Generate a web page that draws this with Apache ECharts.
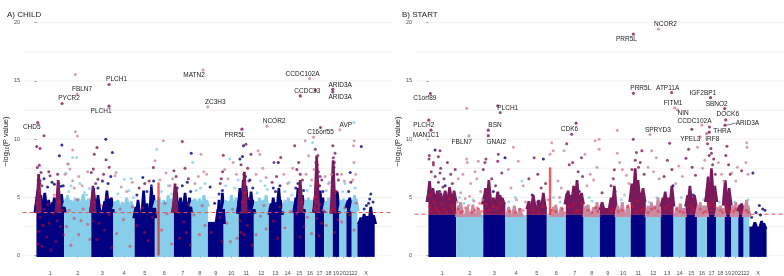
<!DOCTYPE html>
<html lang="en">
<head>
<meta charset="UTF-8">
<title>Manhattan CHILD / START</title>
<script src="https://cdn.jsdelivr.net/npm/echarts@6/dist/echarts.min.js"></script>
<style>html,body{margin:0;padding:0;background:#fff}</style>
</head>
<body>
<div id="chart" style="width:784px;height:276px;"></div>
<script>
// chromosomes (Mb)
const chromNames = ['1','2','3','4','5','6','7','8','9','10','11','12','13','14','15','16','17','18','19','20','21','22','X'];
const chromLengths = [249,243,198,191,181,171,159,146,141,136,135,134,115,107,103,90,81,78,59,63,48,51,155];
const yTicks = [0, 5, 10, 15, 20];
const yGrid = [0, 2.5, 5, 7.5, 10, 12.5, 15, 17.5, 20];

const thresholdChild = 3.7;
const thresholdStart = 3.56;

// ---------- A) CHILD ----------  points are [chromosome, position Mb, -log10 p]
const childBand = [3.9,4.4,3.9,4.2,3.4,4.3,3.9,4.4,2.9,4.2,3.8,4.2,3.7,4.0,3.9,4.2,3.9,4.0,3.8,4.0,4.3,4.0,2.9];
const childHitBand = [0,0,0,0,0,0,0,0,0,0,0,0,0,0,0,0,0,0,0,0,0,0,0];
// dense peak columns: [chromosome, position, top]
const childTowers = [
  [1,5,5.0],[1,10,5.6],[1,22,4.9],[1,40,5.2],[1,55,4.7],[1,75,5.4],[1,90,4.6],[1,110,4.8],[1,145,4.6],[1,160,5.0],[1,175,4.5],[1,195,5.7],[1,210,4.9],[1,225,5.3],[1,240,4.7],
  [2,15,4.9],[2,30,5.2],[2,60,4.8],[2,100,5.0],[2,130,4.9],[2,170,5.3],[2,200,4.8],[2,220,4.9],
  [3,10,5.0],[3,20,5.8],[3,40,4.8],[3,60,5.2],[3,120,4.7],[3,140,5.6],[3,160,4.9],[3,180,5.0],
  [4,20,4.7],[4,40,4.8],[4,80,4.6],[4,120,5.0],[4,160,4.7],
  [5,10,4.2],[5,30,4.8],[5,80,5.6],[5,110,4.5],[5,150,5.9],[5,170,5.2],
  [6,10,4.8],[6,40,5.0],[6,80,4.8],[6,120,5.2],[6,150,4.9],
  [7,5,4.8],[7,20,5.7],[7,40,4.7],[7,60,5.0],[7,80,4.6],[7,100,5.4],[7,120,4.6],[7,140,5.0],
  [8,10,4.8],[8,30,4.9],[8,70,4.9],[8,110,5.2],[8,135,4.8],
  [9,90,4.0],[9,100,4.8],[9,120,4.2],[9,130,5.4],
  [10,20,4.8],[10,50,4.7],[10,70,5.2],[10,110,5.0],[10,125,4.7],
  [11,5,5.0],[11,10,5.8],[11,25,5.2],[11,40,6.5],[11,55,5.4],[11,65,6.0],[11,85,5.0],[11,110,5.5],[11,125,4.8],
  [12,20,4.7],[12,50,5.0],[12,80,4.8],[12,110,5.2],
  [13,20,4.5],[13,40,5.0],[13,70,4.6],[13,90,5.8],[13,105,4.8],
  [14,30,4.8],[14,60,5.0],[14,90,4.7],
  [15,20,5.0],[15,40,5.8],[15,60,5.0],[15,80,5.2],
  [16,10,4.8],[16,30,5.0],[16,60,4.8],
  [17,5,5.4],[17,10,6.0],[17,30,5.2],[17,45,5.6],[17,70,5.0],
  [18,15,4.7],[18,40,5.0],[18,65,4.8],
  [19,5,6.0],[19,20,5.2],[19,40,5.5],
  [20,20,4.8],[20,40,4.9],
  [21,15,4.8],[21,30,5.0],
  [22,15,4.8],[22,25,5.2],[22,40,4.9],
  [23,30,3.3],[23,60,3.6],[23,90,3.4],[23,120,4.2],[23,145,3.5]
];
const childHitTowers = [[1,20,7.0],[1,195,6.5],[3,15,6.0],[7,10,6.2],[11,50,7.2],[15,60,6.5],[17,15,8.5],[19,3,8.2]];
// [chromosome, position, top, bottom]
const childRedTowers = [[6,33,6.3,0]];
const childPoints = [
  [1,206,8.57],[1,228,9.5],[1,68,6.6],[1,161,6.14],[1,221,5.95],[1,240,6.0],[1,30,6.2],[1,100,5.9],[1,140,6.3],
  [2,76,8.43],[2,16,7.08],[2,181,5.43],[2,226,5.77],[2,112,8.43],[2,60,6.0],[2,140,6.2],[2,200,5.2],[2,40,5.5],
  [3,130,10.0],[3,189,8.86],[3,60,5.8],[3,150,6.2],[3,100,6.4],[3,175,6.8],
  [4,99,6.57],[4,159,6.63],[4,40,5.3],[4,140,5.6],[4,180,5.0],
  [5,73,6.71],[5,150,6.0],[5,20,5.2],[5,110,5.5],[5,170,6.4],
  [6,17,9.14],[6,60,5.5],[6,120,6.0],[6,150,5.3],
  [7,75,6.0],[7,120,6.3],[7,150,5.5],[7,30,5.8],[7,155,8.8],
  [8,10,8.0],[8,80,5.8],[8,120,6.2],[8,40,5.6],
  [9,20,5.9],[9,100,5.3],[9,60,4.5],[9,130,5.6],
  [10,55,8.29],[10,20,6.0],[10,100,5.8],[10,130,6.5],
  [11,33,8.51],[11,10,8.3],[11,60,6.8],[11,100,6.5],[11,125,5.8],[11,42,9.43],
  [12,100,6.0],[12,30,5.4],[12,60,6.4],[12,120,5.7],
  [13,85,8.0],[13,40,5.8],[13,100,6.0],[13,60,5.5],
  [14,30,5.5],[14,70,6.3],[14,90,5.2],
  [15,40,6.2],[15,90,5.6],[15,20,5.8],
  [16,68,9.71],[16,20,5.6],[16,50,6.0],
  [17,40,6.0],[17,70,5.5],
  [18,20,5.6],[18,50,6.3],
  [19,30,5.5],
  [20,30,5.5],[20,50,6.2],
  [21,34,7.14],[21,20,5.5],
  [22,30,5.8],
  [23,35,9.37],[23,120,5.3],[23,110,4.86],[23,80,4.3],[23,140,4.6],[23,60,4.0],[23,100,4.5]
];
const childHits = [
  [1,3,9.37],[1,32,9.2],[1,68,10.3],[1,26,7.77],[1,8,7.57],[1,41,7.14],[1,33,6.43],[1,111,7.2],[1,122,6.86],[1,20,6.9],[1,50,6.0],[1,15,6.5],[1,200,6.2],[1,190,7.0],
  [2,37,7.86],[2,76,6.43],[2,52,7.43],[2,7,7.0],[2,100,10.63],[2,118,10.28],[2,100,15.54],[2,31,7.86],[2,130,6.8],[2,160,6.0],[2,210,7.2],[2,90,5.8],[2,76,9.08],
  [3,27,8.71],[3,51,9.29],[3,132,8.23],[3,0,7.14],[3,18,7.43],[3,60,6.57],[3,110,7.0],[3,160,7.6],[3,40,6.2],
  [4,15,6.86],[4,24,7.14],[4,70,5.9],[4,120,5.5],[4,170,6.3],
  [5,168,7.57],[5,130,6.4],[5,40,5.8],[5,90,6.2],
  [6,77,9.86],[6,2,8.14],[6,45,6.5],[6,100,7.1],[6,135,6.0],[6,160,6.6],
  [7,75,9.8],[7,0,7.3],[7,20,6.8],[7,100,7.5],[7,130,6.6],
  [8,84,8.71],[8,60,6.8],[8,110,7.2],[8,30,6.2],[8,135,7.0],
  [9,132,7.2],[9,138,8.63],[9,110,6.2],[9,120,6.6],
  [10,85,8.0],[10,40,6.6],[10,115,7.0],[10,10,7.4],
  [11,64,9.57],[11,109,8.71],[11,80,7.5],[11,45,7.0],[11,20,7.8],[11,90,6.4],
  [12,38,9.0],[12,53,8.71],[12,80,7.5],[12,110,6.7],[12,20,7.0],
  [13,107,8.43],[13,47,8.0],[13,70,6.8],[13,30,6.3],
  [14,20,7.0],[14,55,6.2],[14,100,7.5],
  [15,10,9.43],[15,46,8.0],[15,60,7.0],[15,80,6.5],[15,30,7.4],
  [16,2,9.86],[16,32,8.57],[16,10,7.0],[16,60,6.5],[16,80,7.4],
  [17,2,14.2],[17,49,11.0],[17,2,9.14],[17,14,8.5],[17,20,7.8],[17,30,7.2],[17,8,8.0],[17,45,6.8],[17,60,6.5],[17,25,8.6],
  [18,10,6.8],[18,40,6.2],[18,65,7.0],
  [19,0,9.43],[19,5,8.4],[19,10,7.6],[19,20,8.8],[19,40,7.0],[19,50,6.5],[19,15,8.0],
  [20,3,10.8],[20,20,7.0],[20,45,6.4],
  [21,40,6.3],
  [22,22,9.86],[22,16,9.43],[22,20,8.0],[22,35,7.0],[22,10,6.5]
];
const childReds = [
  [1,5,4.5],[1,20,2.1],[1,35,3.3],[1,50,0.8],[1,70,4.0],[1,90,1.6],[1,115,2.8],[1,150,3.6],[1,175,1.2],[1,200,4.6],[1,215,2.5],[1,235,3.9],[1,160,5.2],[1,30,5.6],
  [1,12,1.0],[1,60,2.6],[1,100,4.4],[1,130,0.5],[1,185,3.0],[1,245,1.8],
  [2,20,2.5],[2,60,0.9],[2,90,3.2],[2,130,1.8],[2,170,4.0],[2,210,2.7],[2,120,4.8],[2,45,3.9],[2,150,3.0],[2,230,1.4],
  [3,10,3.0],[3,50,1.4],[3,90,4.3],[3,120,2.2],[3,160,3.5],[3,185,0.7],[3,140,5.0],[3,30,4.6],[3,70,2.8],
  [4,30,1.9],[4,90,3.1],[4,150,0.8],[4,170,4.2],[4,60,4.0],
  [5,20,2.6],[5,70,4.1],[5,120,1.3],[5,160,3.3],[5,90,2.0],
  [6,60,2.2],[6,110,3.6],[6,150,1.0],[6,90,4.5],
  [7,15,3.8],[7,50,1.5],[7,90,2.9],[7,130,4.4],[7,150,0.9],[7,110,2.0],
  [8,20,3.5],[8,70,1.8],[8,120,2.6],[8,95,4.3],
  [9,30,2.0],[9,110,3.3],[9,130,1.2],
  [10,30,2.8],[10,80,4.0],[10,120,1.5],[10,60,1.2],
  [11,10,3.0],[11,30,4.6],[11,45,1.8],[11,60,5.4],[11,75,2.6],[11,100,3.8],[11,120,0.9],[11,50,6.2],[11,20,2.0],[11,88,4.9],
  [12,20,1.8],[12,60,3.4],[12,110,2.3],[12,90,4.3],
  [13,40,3.0],[13,80,1.5],[13,100,4.2],
  [14,30,2.4],[14,80,3.8],
  [15,30,3.6],[15,60,1.6],[15,80,4.6],[15,95,2.5],
  [16,20,3.3],[16,60,1.9],[16,80,4.1],
  [17,5,5.0],[17,15,3.2],[17,25,6.2],[17,35,1.7],[17,45,4.4],[17,60,2.8],[17,75,3.9],[17,12,4.6],
  [18,20,2.6],[18,60,3.8],
  [19,5,4.0],[19,15,2.0],[19,30,5.5],[19,45,3.1],
  [20,20,2.9],[20,50,4.1],
  [21,30,3.5],
  [22,20,2.2],[22,40,4.5]
];
// [chromosome, position, -log10 p, gene, highlighted]
const childGenes = [
  [1,12,11.43,'CHD5',1],[1,230,13.06,'PYCR2',1],[2,115,13.86,'FBLN7',1],
  [3,159,14.69,'PLCH1',1],[3,159,12.83,'PLCH1',1],[8,103,15.94,'MATN2',1],
  [8,145,12.77,'ZC3H3',1],[11,28,10.86,'PRR5L',1],[12,116,11.11,'NCOR2',1],
  [15,61,13.71,'CCDC33',1],[16,41,15.2,'CCDC102A',1],[16,77,10.17,'C16orf55',1],
  [19,0,14.28,'ARID3A',1],[19,0,14.05,'ARID3A',1],[22,19,11.43,'AVP',0]
];
const childLabelOffsets = [
  [-6,5],[7,-5],[5,-5],[7.5,-5],[-8,4.7],[-9,5.3],[7.5,-4.4],[-7,5.7],[7.3,-4.7],
  [7,-4.4],[-7,-4.6],[7,-4.7],[7.4,-4],[7.4,5],[-8,2.4]
];

// ---------- B) START ----------
const startBand = [3.5,3.5,3.5,3.5,3.5,3.5,3.5,3.5,3.5,3.5,3.5,3.5,3.5,3.5,3.5,3.5,3.5,3.5,3.5,3.5,3.5,3.5,2.5];
const startHitBand = [4.8,0,4.6,0,4.2,0,4.6,0,4.1,0,4.8,0,4.4,0,4.4,0,4.8,0,4.5,0,4.0,0,0];
const startTowers = [[23,50,2.9],[23,110,3.0],[23,130,2.8]];
const startHitTowers = [
  [1,5,5.6],[1,10,6.4],[1,25,5.4],[1,40,5.8],[1,60,5.3],[1,80,5.6],[1,110,5.4],[1,150,5.6],[1,170,5.2],[1,190,5.9],[1,210,5.3],[1,230,5.6],
  [2,20,4.3],[2,40,4.6],[2,100,4.2],[2,150,4.4],[2,200,4.1],
  [3,10,5.2],[3,20,5.8],[3,35,5.2],[3,50,6.5],[3,90,5.0],[3,130,5.5],[3,150,5.2],[3,170,5.0],
  [4,30,4.2],[4,80,4.3],[4,130,4.1],
  [5,20,4.7],[5,60,5.2],[5,110,4.8],[5,150,5.4],
  [6,60,4.2],[6,80,4.4],[6,130,4.2],
  [7,10,5.4],[7,20,5.6],[7,45,5.2],[7,70,6.0],[7,100,6.5],[7,120,5.2],[7,140,5.4],
  [8,20,4.3],[8,40,4.4],[8,90,4.2],[8,120,4.6],
  [9,20,4.6],[9,100,5.0],[9,130,6.0],
  [10,20,4.3],[10,60,4.6],[10,110,4.4],
  [11,10,6.2],[11,25,5.6],[11,40,7.5],[11,65,6.5],[11,90,5.4],[11,110,5.8],
  [12,20,4.3],[12,50,4.6],[12,80,4.3],[12,110,5.0],
  [13,20,5.0],[13,40,5.5],[13,70,5.0],[13,100,6.0],
  [14,30,4.2],[14,60,4.5],[14,90,4.1],
  [15,20,5.2],[15,40,6.0],[15,60,5.0],[15,80,5.2],
  [16,10,4.3],[16,30,4.6],[16,60,4.3],[16,80,4.3],
  [17,5,6.0],[17,10,6.8],[17,25,5.8],[17,40,7.5],[17,55,6.0],[17,70,6.0],
  [18,15,4.2],[18,40,4.3],[18,65,4.1],
  [19,5,6.5],[19,20,5.5],[19,40,5.8],
  [20,15,4.3],[20,40,4.6],
  [21,15,4.4],[21,30,4.5],
  [22,15,4.3],[22,25,4.8],[22,40,4.3]
];
const startRedTowers = [[6,29,7.6,3.5]];
const startPoints = [
  [1,60,9.06],[1,100,5.5],[1,150,6.0],[1,30,4.8],[1,200,5.2],
  [2,150,4.8],[2,70,4.5],[2,30,5.0],
  [3,195,8.4],[3,90,5.5],[3,140,4.9],
  [4,148,6.4],[4,90,5.0],[4,30,4.6],
  [5,150,8.3],[5,50,5.2],[5,100,4.6],
  [6,60,5.0],[6,120,4.6],
  [7,120,5.5],[7,40,4.8],
  [8,50,5.0],[8,75,4.7],
  [9,135,5.5],[9,110,4.6],
  [10,80,5.2],[10,50,4.8],
  [11,60,6.0],[11,20,5.0],
  [12,100,5.0],[12,30,4.6],
  [13,110,6.0],[13,50,4.8],
  [14,70,5.0],[15,70,5.2],[16,60,4.8],[17,60,5.5],[18,30,4.6],[19,30,5.0],[20,30,4.6],[21,20,4.2],[22,40,4.8],
  [23,32,7.09],[23,90,4.3],[23,120,4.0],[23,60,3.7],[23,140,3.9],[23,100,3.5],[23,20,3.3]
];
const startHits = [
  [1,5,8.3],[1,25,7.2],[1,45,7.8],[1,60,6.8],[1,90,6.3],[1,110,7.5],[1,140,6.6],[1,170,8.0],[1,200,7.0],[1,215,6.2],[1,240,7.4],[1,130,5.9],
  [1,8,8.6],[1,44,8.0],[1,89,8.5],[1,104,9.0],[1,104,7.1],
  [2,94,8.3],[2,100,8.0],[2,169,7.2],[2,19,6.6],[2,185,6.6],[2,199,8.1],[2,60,7.0],[2,130,6.2],[2,220,5.5],[2,40,5.4],[2,94,12.66],
  [2,10,4.6],[2,80,4.9],[2,120,5.1],[2,160,4.7],[2,235,4.8],
  [3,0,7.4],[3,15,8.0],[3,24,8.3],[3,135,8.7],[3,130,8.1],[3,166,7.1],[3,76,6.6],[3,110,6.0],[3,152,12.29],
  [4,27,7.4],[4,72,9.3],[4,117,8.1],[4,160,6.0],[4,50,5.8],[4,100,4.8],[4,180,4.6],
  [5,67,8.4],[5,20,6.6],[5,100,7.0],[5,170,6.2],[5,130,5.8],
  [6,44,9.7],[6,58,9.0],[6,29,8.7],[6,100,6.4],[6,155,9.0],[6,130,5.8],[6,10,4.8],[6,115,5.0],
  [7,7,9.6],[7,30,7.8],[7,52,10.43],[7,60,8.0],[7,110,7.2],[7,140,8.4],[7,150,6.8],
  [8,103,9.86],[8,139,10.0],[8,139,9.14],[8,13,8.7],[8,60,7.0],[8,90,6.5],[8,30,6.0],[8,120,7.6],
  [9,130,7.37],[9,120,6.6],[9,20,5.4],[9,100,6.0],
  [10,16,10.77],[10,16,8.8],[10,37,8.0],[10,61,7.4],[10,97,6.9],[10,120,6.2],
  [11,22,10.0],[11,51,8.86],[11,100,9.0],[11,40,8.2],[11,70,7.6],[11,85,8.0],[11,120,7.0],[11,10,7.4],
  [12,53,9.0],[12,95,8.4],[12,20,7.6],[12,70,7.2],[12,120,6.6],
  [13,80,9.66],[13,60,8.2],[13,100,7.4],[13,30,6.8],
  [14,47,7.7],[14,80,6.8],[14,20,6.2],
  [15,4,8.37],[15,28,9.14],[15,60,7.6],[15,90,6.9],[15,57,10.86],
  [16,5,9.3],[16,50,7.5],[16,70,8.2],[16,89,10.5],
  [17,5,9.6],[17,20,8.6],[17,35,9.2],[17,50,7.8],[17,60,8.3],[17,75,7.0],[17,40,8.8],[17,22,11.05],
  [18,22,8.0],[18,50,7.0],[18,70,6.4],
  [19,20,9.4],[19,10,8.6],[19,35,7.8],[19,50,7.0],
  [20,5,7.1],[20,40,6.4],[20,55,7.6],
  [21,30,7.3],
  [22,28,9.7],[22,30,9.3],[22,20,8.0],[22,40,7.0]
];
const startReds = [
  [1,10,4.2],[1,30,3.8],[1,50,4.6],[1,80,3.9],[1,120,4.4],[1,160,3.7],[1,190,4.9],[1,220,4.0],[1,240,3.7],[1,15,5.2],[1,65,4.1],[1,100,3.7],[1,140,4.0],[1,205,4.3],
  [2,20,4.0],[2,60,3.8],[2,110,4.3],[2,170,3.9],[2,210,4.5],[2,80,4.1],[2,140,3.7],[2,230,3.8],[2,40,3.7],[2,190,4.1],
  [3,20,4.4],[3,50,3.9],[3,130,4.1],[3,170,3.7],[3,10,3.8],[3,90,4.2],[3,150,4.5],
  [4,40,3.8],[4,130,4.0],[4,90,3.7],[4,160,3.9],
  [5,60,3.9],[5,150,4.2],[5,110,3.7],
  [6,80,3.8],[6,140,4.0],[6,40,3.9],[6,160,3.7],
  [7,30,4.2],[7,90,3.8],[7,140,4.5],[7,70,4.4],[7,110,3.9],
  [8,40,3.9],[8,110,4.1],[8,75,3.7],[8,130,3.8],
  [9,120,4.0],[9,100,3.8],
  [10,60,3.9],[10,110,4.2],[10,25,3.8],
  [11,10,4.4],[11,45,3.8],[11,65,4.7],[11,110,4.0],[11,25,4.2],[11,85,3.9],
  [12,50,4.0],[12,110,3.8],[12,80,4.1],[12,20,3.7],
  [13,40,4.1],[13,100,3.9],[13,70,4.3],
  [14,60,3.8],[14,30,4.0],[14,90,3.7],
  [15,40,4.3],[15,80,3.9],[15,60,4.1],
  [16,30,4.0],[16,80,3.8],[16,55,3.7],
  [17,10,4.5],[17,40,3.9],[17,70,4.2],[17,25,4.3],[17,55,4.6],
  [18,40,3.9],[18,60,3.7],
  [19,5,4.3],[19,40,3.8],[19,20,4.0],
  [20,40,4.0],[20,20,3.8],
  [21,30,3.8],
  [22,25,3.9],[22,40,3.7]
];
const startGenes = [
  [12,113,19.45,'NCOR2',1],[11,24,19.02,'PRR5L',1],[11,24,13.94,'PRR5L',1],[13,98,14.0,'ATP11A',1],
  [17,32,13.57,'IGF2BP1',1],[14,11,12.68,'FITM1',1],[14,35,12.51,'NIN',1],[19,0,12.63,'SBNO2',1],
  [19,10,11.65,'DOCK6',1],[19,3,11.2,'ARID3A',1],[16,44,11.2,'CCDC102A',1],[17,20,10.6,'THRA',1],
  [12,38,10.4,'SPRYD3',1],[16,30,10.2,'YPEL3',1],[16,86,10.45,'IRF8',1],[1,17,13.92,'C1orf89',1],
  [3,130,12.86,'PLCH1',1],[1,3,11.63,'PLCH2',1],[1,23,10.77,'MAN1C1',1],[3,45,10.77,'BSN',1],
  [3,45,10.3,'GNAI2',1],[2,115,10.28,'FBLN7',1],[7,92,11.37,'CDK6',1]
];
const startLabelOffsets = [
  [7,-5],[-7,5.6],[7.4,-5],[-4,-4.6],[-7.7,-4.6],[-1.7,-4.7],[5.6,3.6],[-8,-4.6],
  [2,-5.4],[22.4,-2],[-7.3,-4],[13,-1],[7.8,-4.6],[-10,2.6],[5.8,5.6],[-5.5,5],
  [10,2.5],[-5,5.3],[-5,5.3],[6.7,-5.3],[8,6.4],[-7.3,6],[-6.7,6]
];
// [gene index, line end dx, dy]
const startConnectors = [[9,10.5,-2]];

// ---------- build chart ----------
const chromStarts = [];
let acc = 0;
chromLengths.forEach(l => { chromStarts.push(acc); acc += l; });
const chromMids = chromStarts.map((s, i) => s + chromLengths[i] / 2);
const gx = (chr, pos) => chromStarts[chr - 1] + pos;

const NAVY = '#000080', SKY = '#87ceeb', PURPLE = '#7a1a5c', PINK = '#c98ba2';
const RED = 'rgba(236,16,34,0.55)';
const FONT = 'Liberation Sans, Arial, sans-serif';
const baseCol = chr => (chr % 2 ? NAVY : SKY);
const hitCol = chr => (chr % 2 ? PURPLE : PINK);

function hLine(idx, values, z, style) {
  return {
    type: 'custom', xAxisIndex: idx, yAxisIndex: idx, z: z, silent: true,
    data: values.map(v => [0, v]), encode: { x: 0, y: 1 }, clip: false,
    renderItem: (params, api) => {
      const cs = params.coordSys;
      const y = api.coord([0, api.value(1)])[1];
      return { type: 'line', shape: { x1: cs.x, y1: y, x2: cs.x + cs.width, y2: y }, style: style };
    }
  };
}

// one rectangle per chromosome, from bottom(chr) up to the listed top
function bands(idx, tops, z, colorFn, bottomFn) {
  return {
    type: 'custom', xAxisIndex: idx, yAxisIndex: idx, z: z, silent: true,
    data: tops.map((top, i) => [chromStarts[i], chromStarts[i] + chromLengths[i], top, i + 1]),
    encode: { x: [0, 1], y: 2 },
    renderItem: (params, api) => {
      const chr = api.value(3);
      const bottom = bottomFn(chr);
      if (api.value(2) <= bottom) return null;
      const a = api.coord([api.value(0), api.value(2)]);
      const b = api.coord([api.value(1), bottom]);
      return { type: 'rect', shape: { x: a[0], y: a[1], width: b[0] - a[0], height: b[1] - a[1] + (bottom === 0 ? 1.2 : 0) },
        style: { fill: colorFn(chr) } };
    }
  };
}

// tapered peak columns
function peaks(idx, list, z, colorFn, fromFn) {
  return {
    type: 'custom', xAxisIndex: idx, yAxisIndex: idx, z: z, silent: true,
    data: list.map(d => [gx(d[0], d[1]), d[2], d[0]]), encode: { x: 0, y: 1 },
    renderItem: (params, api) => {
      const chr = api.value(2);
      const t = api.coord([api.value(0), api.value(1)]);
      const b = api.coord([api.value(0), fromFn(chr)]);
      if (b[1] <= t[1]) return null;
      return { type: 'polygon', shape: { points: [[t[0] - 3.5, b[1] + 1], [t[0] - 1.3, t[1]], [t[0] + 1.3, t[1]], [t[0] + 3.5, b[1] + 1]] },
        style: { fill: colorFn(chr) } };
    }
  };
}

function redColumns(idx, list, z) {
  return {
    type: 'custom', xAxisIndex: idx, yAxisIndex: idx, z: z, silent: true,
    data: list.map(d => [gx(d[0], d[1]), d[2], d[3]]), encode: { x: 0, y: 1 },
    renderItem: (params, api) => {
      const t = api.coord([api.value(0), api.value(1)]);
      const b = api.coord([api.value(0), api.value(2)]);
      return { type: 'rect', shape: { x: t[0] - 1.2, y: t[1], width: 2.4, height: b[1] - t[1], r: 1.2 },
        style: { fill: 'rgba(240,20,30,0.7)' } };
    }
  };
}

function dots(idx, list, z, colorFn, size) {
  return {
    type: 'scatter', xAxisIndex: idx, yAxisIndex: idx, z: z, silent: true,
    symbolSize: size,
    data: list.map(d => [gx(d[0], d[1]), d[2], d[0]]),
    itemStyle: { color: p => colorFn(p.value[2]) }
  };
}

function panelSeries(idx, d) {
  const s = [];
  s.push(hLine(idx, yGrid, 0, { stroke: '#ebebeb', lineWidth: 0.7 }));
  s.push(bands(idx, d.band, 1, baseCol, () => 0));
  s.push(peaks(idx, d.towers, 2, baseCol, chr => d.band[chr - 1] - 0.1));
  s.push(hLine(idx, [d.threshold], 3, { stroke: '#e8534f', lineWidth: 1, lineDash: [4, 3] }));
  s.push(bands(idx, d.hitBand, 4, hitCol, chr => d.band[chr - 1]));
  s.push(dots(idx, d.points, 4, baseCol, 3));
  s.push(peaks(idx, d.hitTowers, 5, hitCol, chr => Math.max(d.band[chr - 1], d.hitBand[chr - 1]) - 0.1));
  s.push(dots(idx, d.hits, 6, hitCol, 3));
  s.push(redColumns(idx, d.redTowers, 7));
  s.push(dots(idx, d.reds, 7, () => RED, 3.2));
  s.push({
    type: 'scatter', xAxisIndex: idx, yAxisIndex: idx, z: 8, silent: true, symbolSize: 3.2,
    data: d.genes.map(g => [gx(g[0], g[1]), g[2], g[0], g[4]]),
    itemStyle: { color: p => (p.value[3] ? hitCol(p.value[2]) : baseCol(p.value[2])) }
  });
  s.push({
    type: 'custom', xAxisIndex: idx, yAxisIndex: idx, z: 9, silent: true, clip: false,
    data: d.genes.map(g => [gx(g[0], g[1]), g[2]]), encode: { x: 0, y: 1 },
    renderItem: (params, api) => {
      const i = params.dataIndex;
      const p = api.coord([api.value(0), api.value(1)]);
      const o = d.offsets[i];
      const children = [{
        type: 'text', x: p[0] + o[0], y: p[1] + o[1],
        style: { text: d.genes[i][3], fontSize: 6.5, fontFamily: FONT, fill: '#222', align: 'center', verticalAlign: 'middle' }
      }];
      d.connectors.filter(c => c[0] === i).forEach(c => {
        children.push({ type: 'line', shape: { x1: p[0] + 1.5, y1: p[1], x2: p[0] + c[1], y2: p[1] + c[2] },
          style: { stroke: '#222', lineWidth: 0.6 } });
      });
      return { type: 'group', children: children };
    }
  });
  return s;
}

const child = { band: childBand, hitBand: childHitBand, towers: childTowers, hitTowers: childHitTowers, redTowers: childRedTowers,
  points: childPoints, hits: childHits, reds: childReds, genes: childGenes, offsets: childLabelOffsets,
  connectors: [], threshold: thresholdChild };
const start = { band: startBand, hitBand: startHitBand, towers: startTowers, hitTowers: startHitTowers, redTowers: startRedTowers,
  points: startPoints, hits: startHits, reds: startReds, genes: startGenes, offsets: startLabelOffsets,
  connectors: startConnectors, threshold: thresholdStart };

function xAxis(idx) {
  return {
    type: 'value', gridIndex: idx, min: -125, max: 3190,
    axisLine: { show: false }, splitLine: { show: false },
    axisTick: { show: true, customValues: chromMids, length: 2, lineStyle: { color: '#555', width: 0.6 } },
    axisLabel: {
      customValues: chromMids, margin: 3, fontSize: 5.5, color: '#4d4d4d', fontFamily: FONT,
      formatter: v => {
        let best = 0;
        chromMids.forEach((m, i) => { if (Math.abs(m - v) < Math.abs(chromMids[best] - v)) best = i; });
        return chromNames[best];
      }
    }
  };
}
function yAxis(idx) {
  return {
    type: 'value', gridIndex: idx, min: -0.97, max: 20.57,
    axisLine: { show: false }, splitLine: { show: false },
    axisTick: { show: true, customValues: yTicks, length: 2, lineStyle: { color: '#555', width: 0.6 } },
    axisLabel: { customValues: yTicks, margin: 2.5, fontSize: 5.5, color: '#4d4d4d', fontFamily: FONT },
    name: '−log{s|10}(P value)', nameLocation: 'middle', nameRotate: 90, nameGap: 10,
    nameTextStyle: { fontSize: 7.5, color: '#222', fontFamily: FONT,
      rich: { s: { fontSize: 5, fontFamily: FONT, color: '#222', padding: [4, 0, 0, 0] } } }
  };
}

const chart = echarts.init(document.getElementById('chart'), null, { renderer: 'canvas' });
chart.setOption({
  animation: false,
  backgroundColor: '#fff',
  title: [
    { text: 'A) CHILD', left: 2, top: 6, textStyle: { fontSize: 8, fontWeight: 'normal', color: '#222', fontFamily: FONT } },
    { text: 'B) START', left: 397, top: 6, textStyle: { fontSize: 8, fontWeight: 'normal', color: '#222', fontFamily: FONT } }
  ],
  grid: [
    { left: 22.5, top: 16, width: 369.6, height: 252 },
    { left: 414.5, top: 16, width: 369.5, height: 252 }
  ],
  xAxis: [xAxis(0), xAxis(1)],
  yAxis: [yAxis(0), yAxis(1)],
  series: panelSeries(0, child).concat(panelSeries(1, start))
});
</script>
</body>
</html>
